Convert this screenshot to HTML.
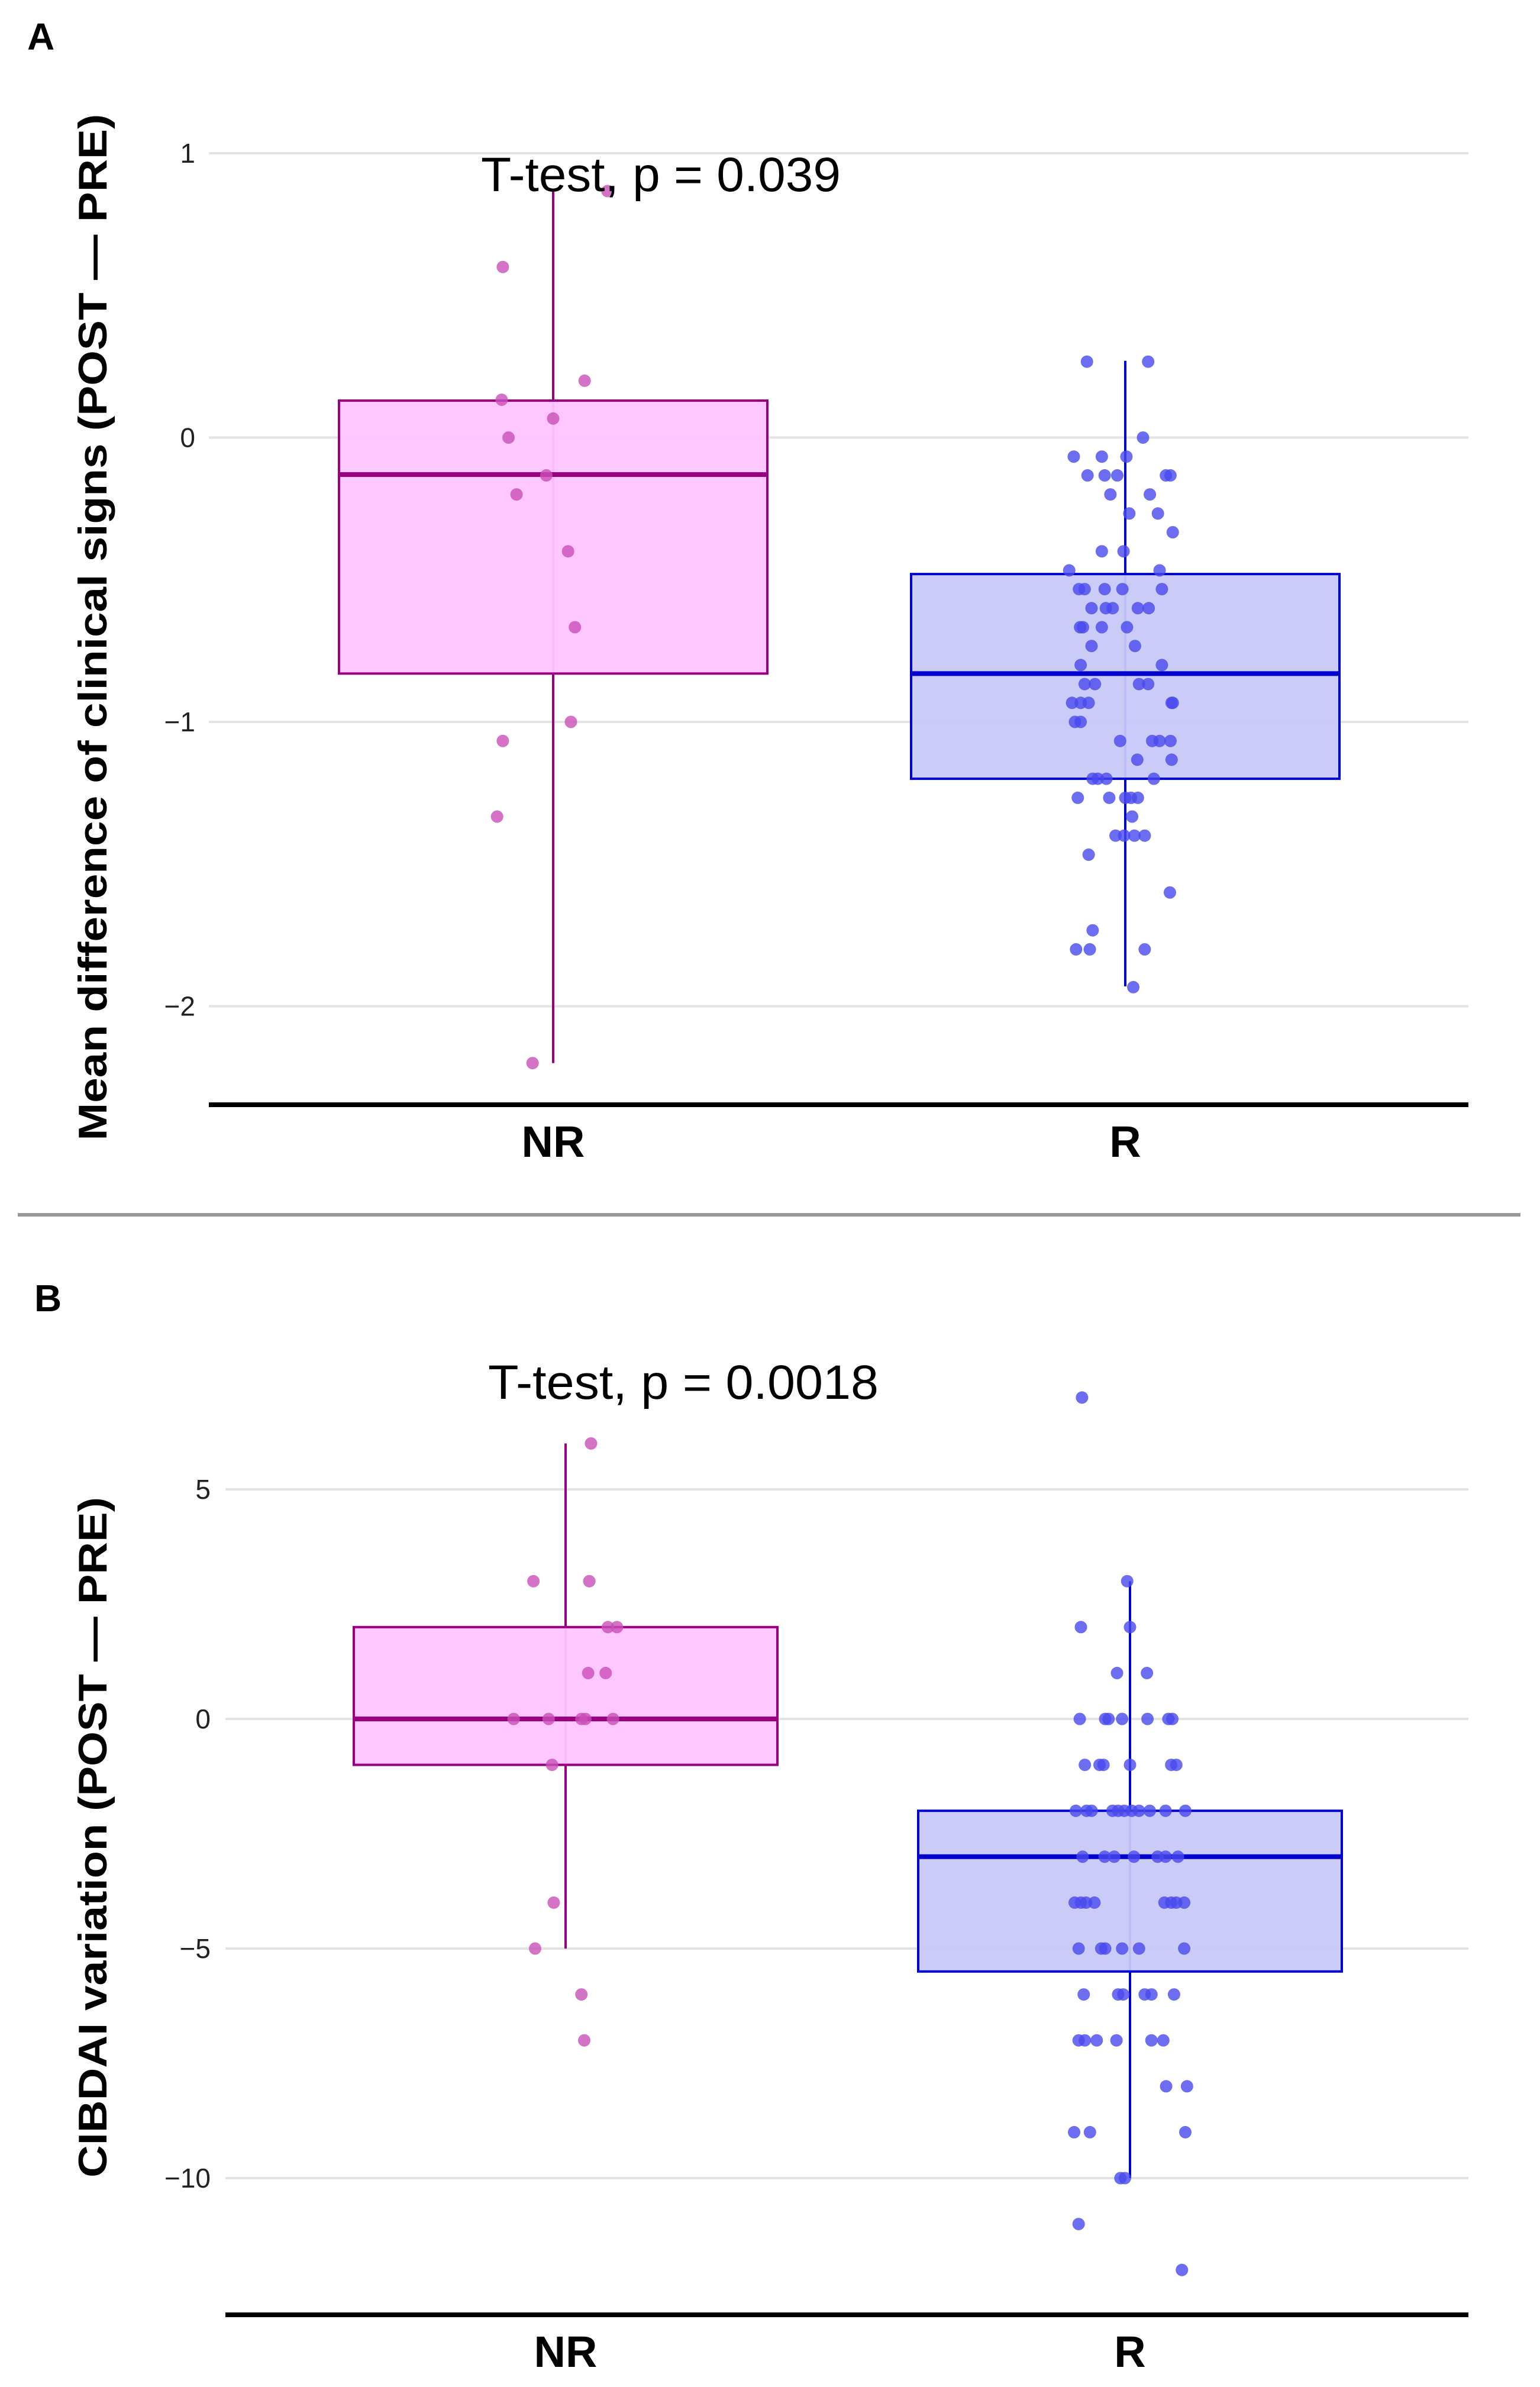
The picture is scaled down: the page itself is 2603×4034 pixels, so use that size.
<!DOCTYPE html>
<html><head><meta charset="utf-8">
<style>html,body{margin:0;padding:0;background:#fff}svg{display:block}</style>
</head><body>
<svg id="fig" xmlns="http://www.w3.org/2000/svg" width="2603" height="4034" viewBox="0 0 2603 4034" font-family="Liberation Sans, Arial, sans-serif">
<rect width="2603" height="4034" fill="#fff"/>
<text x="46" y="84" font-size="64" font-weight="bold">A</text>
<line x1="30" y1="2053" x2="2570" y2="2053" stroke="#999" stroke-width="6"/>
<text x="58" y="2216" font-size="64" font-weight="bold">B</text>
<g id="pa"></g>
<g id="pb"></g>
</svg>
<script>
// ---------- Panel A data ----------
const aCategories = ["NR", "R"];
const aTicks = [1, 0, -1, -2];
const aTickLabels = ["1", "0", "\u22121", "\u22122"];
const aNRstats = [-2.2, -0.83, -0.13, 0.13, 0.87]; // min, q1, median, q3, max
const aRstats = [-1.93, -1.2, -0.83, -0.48, 0.27];
const aNRvals = [0.867,0.6,0.2,0.133,0.067,0,-0.133,-0.2,-0.4,-0.667,-1,-1.067,-1.333,-2.2];
const aNRjit = [9.5,-8.8,5.5,-9.0,0,-7.8,-1.2,-6.4,2.6,3.8,3.1,-8.8,-9.8,-3.6];
const aRvals = [0.267,0.267,0,-0.067,-0.067,-0.067,-0.133,-0.133,-0.133,-0.133,-0.133,-0.2,-0.2,-0.267,-0.267,-0.333,-0.4,-0.4,-0.467,-0.467,
 -0.533,-0.533,-0.533,-0.533,-0.533,-0.6,-0.6,-0.6,-0.6,-0.6,-0.667,-0.667,-0.667,-0.667,-0.733,-0.733,-0.8,-0.8,
 -0.867,-0.867,-0.867,-0.867,-0.933,-0.933,-0.933,-0.933,-0.933,-1,-1,-1.067,-1.067,-1.067,-1.067,-1.133,-1.133,
 -1.2,-1.2,-1.2,-1.2,-1.267,-1.267,-1.267,-1.267,-1.267,-1.333,-1.4,-1.4,-1.4,-1.4,-1.467,-1.6,-1.733,-1.8,-1.8,-1.8,-1.933];
const aRjit = [-6.7,4.0,3.1,-9.0,-4.1,0.2,-6.6,-3.6,-1.4,7.1,7.9,-2.6,4.3,0.7,5.7,8.3,-4.1,-0.3,-9.8,6.0,
 -8.1,-7.1,-3.6,-0.5,6.4,-5.9,-3.4,-2.2,2.2,4.1,-7.9,-7.4,-4.1,0.3,-5.9,1.7,-7.8,6.4,
 -7.1,-5.3,2.4,4.0,-9.3,-7.8,-6.4,8.1,8.3,-8.8,-7.8,-0.9,4.7,6.0,7.9,2.1,8.1,
 -5.7,-4.8,-3.3,5.0,-8.3,-2.8,0,1.0,2.2,1.2,-1.7,-0.2,1.6,3.4,-6.4,7.8,-5.7,-8.6,-6.2,3.4,1.4];
// ---------- Panel B data ----------
const bCategories = ["NR", "R"];
const bTicks = [5, 0, -5, -10];
const bTickLabels = ["5", "0", "\u22125", "\u221210"];
const bNRstats = [-5, -1, 0, 2, 6];
const bRstats = [-10, -5.5, -3, -2, 3];
const bNRvals = [6,3,3,2,2,1,1,0,0,0,0,0,-1,-4,-5,-6,-7];
const bNRjit = [4.5,-5.7,4.2,7.5,9.1,4.0,7.1,-9.2,-3.0,2.8,3.5,8.4,-2.4,-2.1,-5.4,2.8,3.3];
const bRvals = [7,3,2,2,1,1,0,0,0,0,0,0,0,-1,-1,-1,-1,-1,-1,
 -2,-2,-2,-2,-2,-2,-2,-2,-2,-2,-2,-3,-3,-3,-3,-3,-3,-3,-4,-4,-4,-4,-4,-4,-4,-4,
 -5,-5,-5,-5,-5,-5,-6,-6,-6,-6,-6,-6,-7,-7,-7,-7,-7,-7,-8,-8,-9,-9,-9,-10,-10,-11,-12];
const bRjit = [-8.5,-0.5,-8.7,0,-2.3,3.0,-8.9,-4.4,-3.8,-1.4,3.1,6.8,7.5,-8.0,-5.4,-4.7,0,7.3,8.2,
 -9.6,-7.7,-6.8,-3.1,-2.1,-1.0,0.3,1.6,3.5,6.3,9.8,-8.4,-4.5,-2.8,0.7,4.9,6.3,8.5,-9.8,-8.7,-7.8,-6.3,6.1,7.3,8.2,9.6,
 -9.1,-5.1,-4.4,-1.4,1.6,9.6,-8.2,-2.1,-1.2,2.6,3.8,7.8,-9.1,-8.0,-5.9,-2.4,3.8,5.9,6.4,10.1,-9.9,-7.1,9.8,-1.7,-0.9,-9.1,9.2];

const NS = "http://www.w3.org/2000/svg";
function mk(parent, tag, attrs, text) {
  const e = document.createElementNS(NS, tag);
  for (const k in attrs) e.setAttribute(k, attrs[k]);
  if (text !== undefined) e.textContent = text;
  parent.appendChild(e);
  return e;
}
const COL = {
  NR: {fill: "#ffc4ff", stroke: "#990080", pt: "#c94fb8"},
  R: {fill: "#c8c8f8", stroke: "#0000cc", pt: "#4848ee"}
};

function drawPanel(g, cfg) {
  const y = v => cfg.y0 - (v - cfg.v0) * cfg.k;
  const x = i => cfg.cx0 + i * cfg.spacing;
  cfg.ticks.forEach((t, i) => {
    const gl = mk(g, "line", {x1: cfg.left, x2: cfg.right, y1: y(t), y2: y(t), stroke: "#e3e3e3", "stroke-width": 4});
    
    
    const tl = mk(g, "text", {x: cfg.tickX, y: y(t) + 16, "font-size": 46, "text-anchor": "end", fill: "#222"}, cfg.tickLabels[i]);
    
    
  });
  const groups = [
    {name: cfg.cats[0], st: cfg.nrStats, vals: cfg.nrVals, jit: cfg.nrJit, c: COL.NR},
    {name: cfg.cats[1], st: cfg.rStats, vals: cfg.rVals, jit: cfg.rJit, c: COL.R}
  ];
  groups.forEach((gr, i) => {
    const cx = x(i), hw = cfg.halfW, s = gr.st;
    const w = mk(g, "line", {x1: cx, x2: cx, y1: y(s[4]), y2: y(s[0]), stroke: gr.c.stroke, "stroke-width": 4});
    
    
    const b = mk(g, "rect", {x: cx - hw, y: y(s[3]), width: 2 * hw, height: y(s[1]) - y(s[3]), fill: gr.c.fill, "fill-opacity": 0.95, stroke: gr.c.stroke, "stroke-width": 4});
    
    
    const m = mk(g, "line", {x1: cx - hw, x2: cx + hw, y1: y(s[2]), y2: y(s[2]), stroke: gr.c.stroke, "stroke-width": 8});
    
    
    gr.vals.forEach((v, j) => {
      const p = mk(g, "circle", {cx: cx + gr.jit[j] / 100 * cfg.spacing, cy: y(v), r: 10.5, fill: gr.c.pt, "fill-opacity": 0.8});
      
      
    });
    const cl = mk(g, "text", {x: cx, y: cfg.catY, "font-size": 74, "font-weight": "bold", "text-anchor": "middle"}, gr.name);
    
    
  });
  const ax = mk(g, "line", {x1: cfg.left, x2: cfg.right, y1: cfg.axisY, y2: cfg.axisY, stroke: "#000", "stroke-width": 8});
  
  
  const tt = mk(g, "text", {x: cfg.ttX, y: cfg.ttY, "font-size": 82, textLength: cfg.ttLen, lengthAdjust: "spacingAndGlyphs"}, cfg.ttText);
  
  
  const yt = mk(g, "text", {x: 0, y: 0, "font-size": 68, "font-weight": "bold", "text-anchor": "middle", textLength: cfg.ytLen, lengthAdjust: "spacingAndGlyphs", transform: "translate(180," + cfg.ytCY + ") rotate(-90)"}, cfg.ytText);
  
  
}

drawPanel(document.getElementById("pa"), {
  v0: 1, y0: 259, k: 480.5, left: 353, right: 2482, cx0: 935, spacing: 967, halfW: 362,
  ticks: aTicks, tickLabels: aTickLabels, tickX: 330, cats: aCategories,
  nrStats: aNRstats, rStats: aRstats, nrVals: aNRvals, nrJit: aNRjit, rVals: aRvals, rJit: aRjit,
  axisY: 1867, catY: 1955, ttX: 813, ttY: 323, ttLen: 608, ttText: "T-test, p = 0.039",
  ytText: "Mean difference of clinical signs (POST \u2014 PRE)", ytLen: 1735, ytCY: 1060
});
drawPanel(document.getElementById("pb"), {
  v0: 5, y0: 2517, k: 77.6, left: 381, right: 2482, cx0: 956, spacing: 954, halfW: 358,
  ticks: bTicks, tickLabels: bTickLabels, tickX: 356, cats: bCategories,
  nrStats: bNRstats, rStats: bRstats, nrVals: bNRvals, nrJit: bNRjit, rVals: bRvals, rJit: bRjit,
  axisY: 3912, catY: 4000, ttX: 825, ttY: 2364, ttLen: 660, ttText: "T-test, p = 0.0018",
  ytText: "CIBDAI variation (POST \u2014 PRE)", ytLen: 1150, ytCY: 3105
});
</script>
</body></html>
